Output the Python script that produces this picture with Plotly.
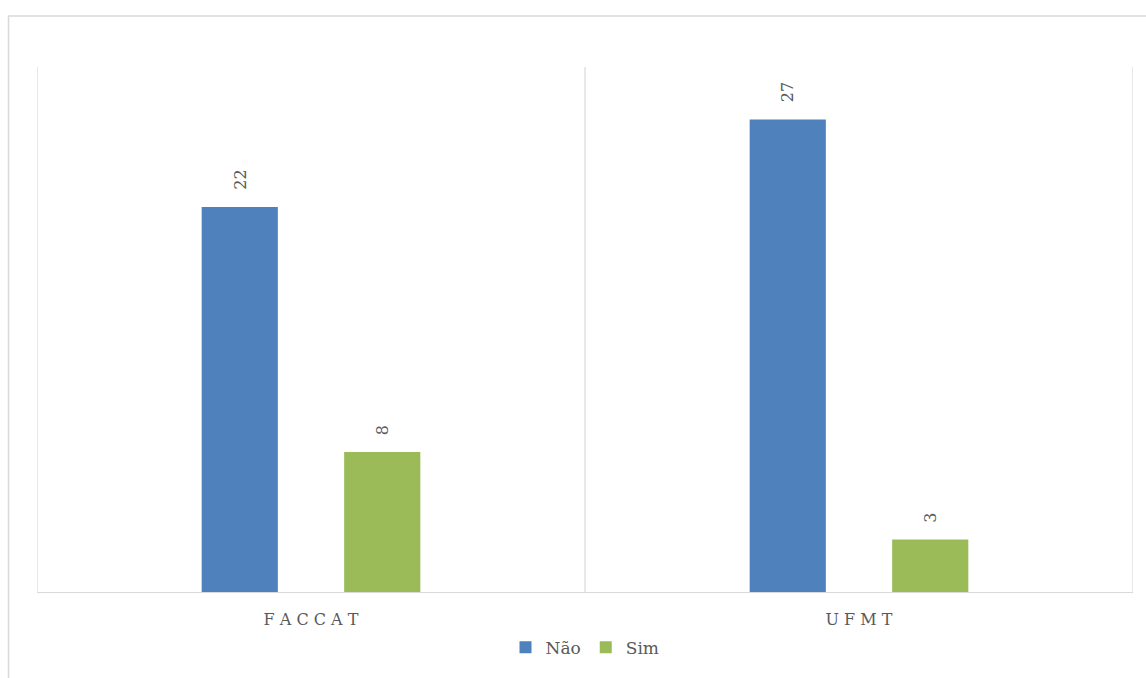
import plotly.graph_objects as go

categories = ["FACCAT", "UFMT"]
tick_labels = ["F A C C A T", "U F M T"]
nao_values = [22, 27]
sim_values = [8, 3]
series_names = ["Não", "Sim"]

COLORS = ["#4F81BD", "#9BBB59"]
FONT = "DejaVu Serif"
GREY = "#595959"

x_idx = list(range(len(categories)))
offset = 0.13
bw = 0.139

fig = go.Figure()
for name, vals, col, sgn in [(series_names[0], nao_values, COLORS[0], -1),
                             (series_names[1], sim_values, COLORS[1], 1)]:
    xs = [i + sgn * offset for i in x_idx]
    fig.add_trace(go.Bar(x=xs, y=vals, name=name, width=bw,
                         marker=dict(color=col, line=dict(width=0))))
    for xv, yv in zip(xs, vals):
        fig.add_annotation(x=xv, y=yv, xref="x", yref="y", text=str(yv),
                           textangle=-90, showarrow=False, yanchor="bottom",
                           yshift=15, font=dict(family=FONT, size=16, color=GREY))

# vertical separators
for xv in [-0.5, 0.5, 1.5]:
    fig.add_shape(type="line", xref="x", yref="paper", x0=xv, x1=xv, y0=0, y1=1,
                  line=dict(color="#d9d9d9", width=1.2), layer="below")
# outer chart border
fig.add_shape(type="rect", xref="paper", yref="paper", x0=-0.026, x1=1.05,
              y0=-0.3, y1=1.0972, line=dict(color="#d9d9d9", width=1.5))

fig.update_layout(
    width=1146, height=678,
    margin=dict(l=37, r=13, t=67, b=81),
    paper_bgcolor="white", plot_bgcolor="white",
    barmode="overlay",
    showlegend=True,
    legend=dict(orientation="h", x=0.5, xanchor="center", y=-0.106, yanchor="middle",
                font=dict(family=FONT, size=17, color=GREY), itemwidth=30,
                traceorder="normal"),
    xaxis=dict(range=[-0.5, 1.5], tickvals=x_idx, ticktext=tick_labels,
               showgrid=False, zeroline=False, showline=True, linecolor="#d9d9d9",
               linewidth=1.2, ticks="outside", ticklen=13, tickcolor="rgba(0,0,0,0)",
               tickfont=dict(family=FONT, size=16, color=GREY)),
    yaxis=dict(range=[0, 30], visible=False, showgrid=False, zeroline=False),
)

fig.write_html("out.html")
